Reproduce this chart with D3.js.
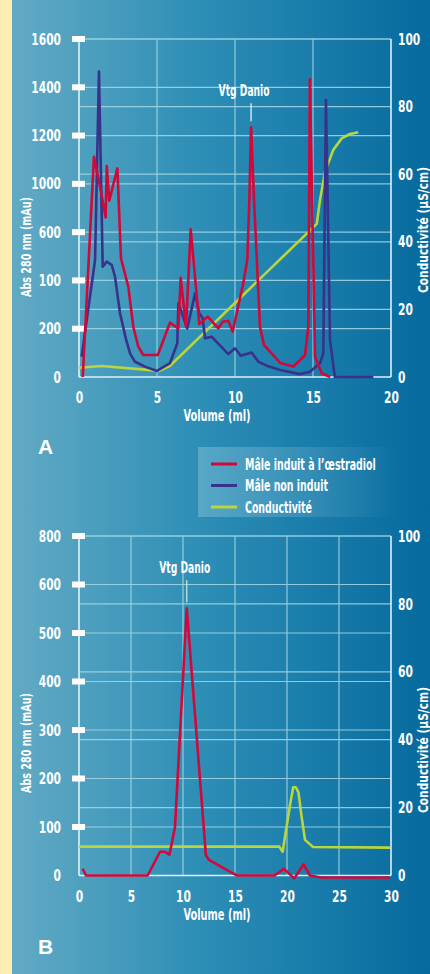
<!DOCTYPE html>
<html>
<head>
<meta charset="utf-8">
<script src="https://cdnjs.cloudflare.com/ajax/libs/d3/7.8.5/d3.min.js"></script>
<style>
html, body { margin: 0; padding: 0; background: #fdeeb4; }
svg { display: block; }
text { font-family: "Liberation Sans Narrow", "DejaVu Sans Condensed", sans-serif; font-weight: bold; fill: #fff; }
</style>
</head>
<body>
<div id="chart"></div>
<script>
// ---- data ----
const volTicksA = [0, 5, 10, 15, 20];
const absLabelsA = ["0", "200", "100", "600", "1000", "1200", "1400", "1600"];
const condTicks = [0, 20, 40, 60, 80, 100];

// [volume ml, abs] - abs in axis steps of 200 per tick
const redA = [[0.24,0],[0.96,912],[1.35,788],[1.71,661],[1.78,874],[1.94,730],[2.46,864],[2.69,492],
  [3.16,374],[3.48,208],[3.8,126],[4.12,91],[5.05,91],[5.83,225],[6.37,201],[6.52,411],[6.86,208],
  [7.16,612],[7.71,219],[8.25,250],[8.93,201],[9.21,229],[9.57,233],[9.85,188],[10.53,388],[10.79,487],
  [10.92,733],[11.03,1034],[11.22,733],[11.6,208],[11.86,132],[12.9,58],[13.74,43],[14.49,91],[14.7,208],
  [14.8,1233],[15.13,84],[15.56,15],[16.1,0]];
const blueA = [[0.17,84],[1.03,485],[1.28,1265],[1.52,457],[1.78,478],[2.1,464],[2.31,415],[2.63,264],
  [3.0,160],[3.27,98],[3.59,63],[4.23,43],[5.0,25],[5.83,57],[6.3,140],[6.37,305],[6.94,201],[7.44,347],
  [7.71,264],[7.93,243],[8.08,160],[8.5,167],[9.57,95],[10.0,119],[10.37,88],[11.07,101],[11.5,63],
  [12.03,47],[12.9,29],[14.17,12],[14.8,22],[15.45,57],[15.66,98],[15.83,1147],[16.09,153],[16.4,0],[18.87,0]];
const greenA = [[0,2.75],[1.45,3.25],[5.15,1.8],[5.83,3.3],[15.24,45.3],[15.45,52.4],[15.77,60.7],
  [16.3,67.2],[16.84,70.6],[17.37,71.9],[17.9,72.4]];

const volTicksB = [0, 5, 10, 15, 20, 25, 30];
const absLabelsB = ["0", "100", "200", "300", "400", "500", "600", "800"];
const redB = [[0.35,14],[0.67,0],[6.6,0],[7.79,49],[8.27,49],[8.7,43],[9.23,100],[10.36,551],[12.2,42],
  [12.5,32],[14.5,8],[15.2,0],[18.8,0],[19.7,14],[20.7,-6],[21.6,23],[22.2,0],[23.3,-4],[29.9,-4]];
const greenB = [[0,8.5],[19.26,8.5],[19.58,7],[20.3,21],[20.6,26],[20.85,26],[21.1,24.5],[21.4,17.4],
  [21.73,10.5],[22.5,8.4],[29.9,8.2]];

const legendNames = ["Mâle induit à l’œstradiol", "Mâle non induit", "Conductivité"];

// ---- style ----
const RED = "#d2083a", NAVY = "#39328a", GREEN = "#b9d63c";
const GRID = "#a6d9e6";
const width = 430, height = 974;
const left = 79, right = 391;
const SQUEEZE = 0.74; // the print font is a narrow condensed face

const svg = d3.select("#chart").append("svg")
  .attr("width", width)
  .attr("height", height);

const defs = svg.append("defs");
const bg = defs.append("linearGradient").attr("id", "bg").attr("x1", "0").attr("x2", "1").attr("y1", "0").attr("y2", "0");
bg.append("stop").attr("offset", "0").attr("stop-color", "#62aac4");
bg.append("stop").attr("offset", "0.45").attr("stop-color", "#2d8eb6");
bg.append("stop").attr("offset", "1").attr("stop-color", "#066a9e");
const lg = defs.append("linearGradient").attr("id", "lg").attr("x1", "0").attr("x2", "1").attr("y1", "0").attr("y2", "0");
lg.append("stop").attr("offset", "0").attr("stop-color", "#8cc6dc").attr("stop-opacity", 0.45);
lg.append("stop").attr("offset", "0.6").attr("stop-color", "#8cc6dc").attr("stop-opacity", 0.2);
lg.append("stop").attr("offset", "1").attr("stop-color", "#8cc6dc").attr("stop-opacity", 0);

svg.append("rect").attr("x", 0).attr("y", 0).attr("width", 12).attr("height", height).attr("fill", "#fdeeb4");
svg.append("rect").attr("x", 12).attr("y", 0).attr("width", width - 12).attr("height", height).attr("fill", "url(#bg)");

function panel(opt) {
  const g = svg.append("g");
  const x = d3.scaleLinear().domain([0, opt.xTicks[opt.xTicks.length - 1]]).range([left, right]);
  const absTicks = d3.range(opt.absLabels.length).map(i => i * opt.step);
  const yAbs = d3.scaleLinear().domain([0, absTicks[absTicks.length - 1]]).range([opt.bottom, opt.top]);
  const yCond = d3.scaleLinear().domain([0, 100]).range([opt.bottom, opt.top]);

  // grid
  const grid = g.append("g").attr("stroke", GRID).attr("stroke-width", 1.2).attr("opacity", 0.85);
  grid.selectAll(".ha").data(absTicks.slice(1)).enter().append("line")
    .attr("x1", left).attr("x2", right).attr("y1", d => yAbs(d)).attr("y2", d => yAbs(d));
  grid.selectAll(".hc").data(condTicks.slice(1)).enter().append("line")
    .attr("x1", left).attr("x2", right).attr("y1", d => yCond(d)).attr("y2", d => yCond(d));
  grid.selectAll(".v").data(opt.xTicks.slice(1, -1)).enter().append("line")
    .attr("y1", opt.top).attr("y2", opt.bottom).attr("x1", d => x(d)).attr("x2", d => x(d));

  // axis lines
  const ax = g.append("g").attr("stroke", "#dff1f6").attr("stroke-width", 1.6);
  ax.append("line").attr("x1", left).attr("x2", left).attr("y1", opt.top).attr("y2", opt.bottom);
  ax.append("line").attr("x1", right).attr("x2", right).attr("y1", opt.top).attr("y2", opt.bottom);
  ax.append("line").attr("x1", left).attr("x2", right).attr("y1", opt.bottom).attr("y2", opt.bottom);

  // left axis
  const la = g.append("g").attr("transform", `translate(${left},0)`)
    .call(d3.axisLeft(yAbs).tickValues(absTicks).tickFormat((d, i) => opt.absLabels[i]).tickSize(0).tickPadding(18));
  la.select(".domain").remove();
  la.selectAll("text").style("font-size", "16px").attr("fill", "#fff");
  g.selectAll(".blk").data(absTicks.slice(1)).enter().append("rect")
    .attr("x", left - 7).attr("y", d => yAbs(d) - 3).attr("width", 13).attr("height", 6).attr("fill", "#fff");

  // right axis
  const ra = g.append("g").attr("transform", `translate(${right},0)`)
    .call(d3.axisRight(yCond).tickValues(condTicks).tickSize(0).tickPadding(7));
  ra.select(".domain").remove();
  ra.selectAll("text").style("font-size", "16px").attr("fill", "#fff");

  // bottom axis
  const ba = g.append("g").attr("transform", `translate(0,${opt.bottom})`)
    .call(d3.axisBottom(x).tickValues(opt.xTicks).tickSize(0).tickPadding(15));
  ba.select(".domain").remove();
  ba.selectAll("text").style("font-size", "16px").attr("fill", "#fff");

  // titles
  g.append("text").attr("x", 217).attr("y", opt.bottom + 44).attr("text-anchor", "middle")
    .attr("data-w", 67).style("font-size", "16px").text("Volume (ml)");
  g.append("text").attr("transform", `translate(31,${opt.absTitleY}) rotate(-90)`).attr("text-anchor", "middle")
    .attr("data-w", 100).style("font-size", "14px").text("Abs 280 nm (mAu)");
  g.append("text").attr("transform", `translate(428,${opt.condTitleY}) rotate(-90)`).attr("text-anchor", "middle")
    .attr("data-w", 126).style("font-size", "14px").text("Conductivité (µS/cm)");
  g.append("text").attr("class", "wide").attr("x", 38).attr("y", opt.letterY)
    .style("font-family", "Liberation Sans, Arial, sans-serif")
    .style("font-size", "21px").text(opt.letter);

  // series
  opt.series.forEach(s => {
    const y = s.axis === "cond" ? yCond : yAbs;
    g.append("path").datum(s.data)
      .attr("fill", "none").attr("stroke", s.color).attr("stroke-width", 2.6)
      .attr("stroke-linejoin", "round")
      .attr("d", d3.line().x(d => x(d[0])).y(d => y(d[1])));
  });

  // Vtg Danio label
  const px = x(opt.vtg[0]), py = yAbs(opt.vtg[1]);
  g.append("line").attr("x1", px).attr("x2", px).attr("y1", py - 6).attr("y2", py - opt.vtgLen)
    .attr("stroke", opt.vtgColor).attr("stroke-width", 1.3);
  g.append("text").attr("x", px + opt.vtgDx).attr("y", py - opt.vtgLen - 7).attr("text-anchor", "middle")
    .attr("data-w", 51).style("font-size", "16px").text("Vtg Danio");
}

panel({
  top: 39, bottom: 377, step: 200, xTicks: volTicksA, absLabels: absLabelsA,
  absTitleY: 247, condTitleY: 230, letter: "A", letterY: 454,
  vtg: [11.03, 1034], vtgLen: 24, vtgDx: -7, vtgColor: "#e6f4f8",
  series: [
    { data: greenA, color: GREEN, axis: "cond" },
    { data: blueA, color: NAVY, axis: "abs" },
    { data: redA, color: RED, axis: "abs" }
  ]
});

panel({
  top: 536, bottom: 875.5, step: 100, xTicks: volTicksB, absLabels: absLabelsB,
  absTitleY: 743, condTitleY: 750, letter: "B", letterY: 954,
  vtg: [10.36, 551], vtgLen: 28, vtgDx: -2, vtgColor: "#bfe6d8",
  series: [
    { data: greenB, color: GREEN, axis: "cond" },
    { data: redB, color: RED, axis: "abs" }
  ]
});

// narrow every label to mimic the condensed print face
svg.selectAll("text:not(.wide)").each(function() {
  const t = d3.select(this);
  const w = t.attr("data-w");
  t.attr("textLength", w ? +w : this.getComputedTextLength() * SQUEEZE).attr("lengthAdjust", "spacingAndGlyphs");
});

// legend (narrowed with a horizontal scale)
const legendW = [131, 83, 67];
const legend = svg.append("g").attr("transform", "translate(198,447)");
legend.append("rect").attr("width", 200).attr("height", 70).attr("fill", "url(#lg)");
legend.selectAll(".item").data(legendNames).enter().append("g")
  .attr("transform", (d, i) => `translate(0,${17 + i * 21.5})`)
  .each(function(d, i) {
    const it = d3.select(this);
    it.append("line").attr("x1", 13).attr("x2", 39).attr("stroke-width", 3)
      .attr("stroke", [RED, NAVY, GREEN][i]);
    const t = it.append("text").attr("dy", "0.35em").style("font-size", "16px").text(d);
    const k = legendW[i] / t.node().getComputedTextLength();
    t.attr("transform", `translate(47,0) scale(${k},1)`);
  });
</script>
</body>
</html>
